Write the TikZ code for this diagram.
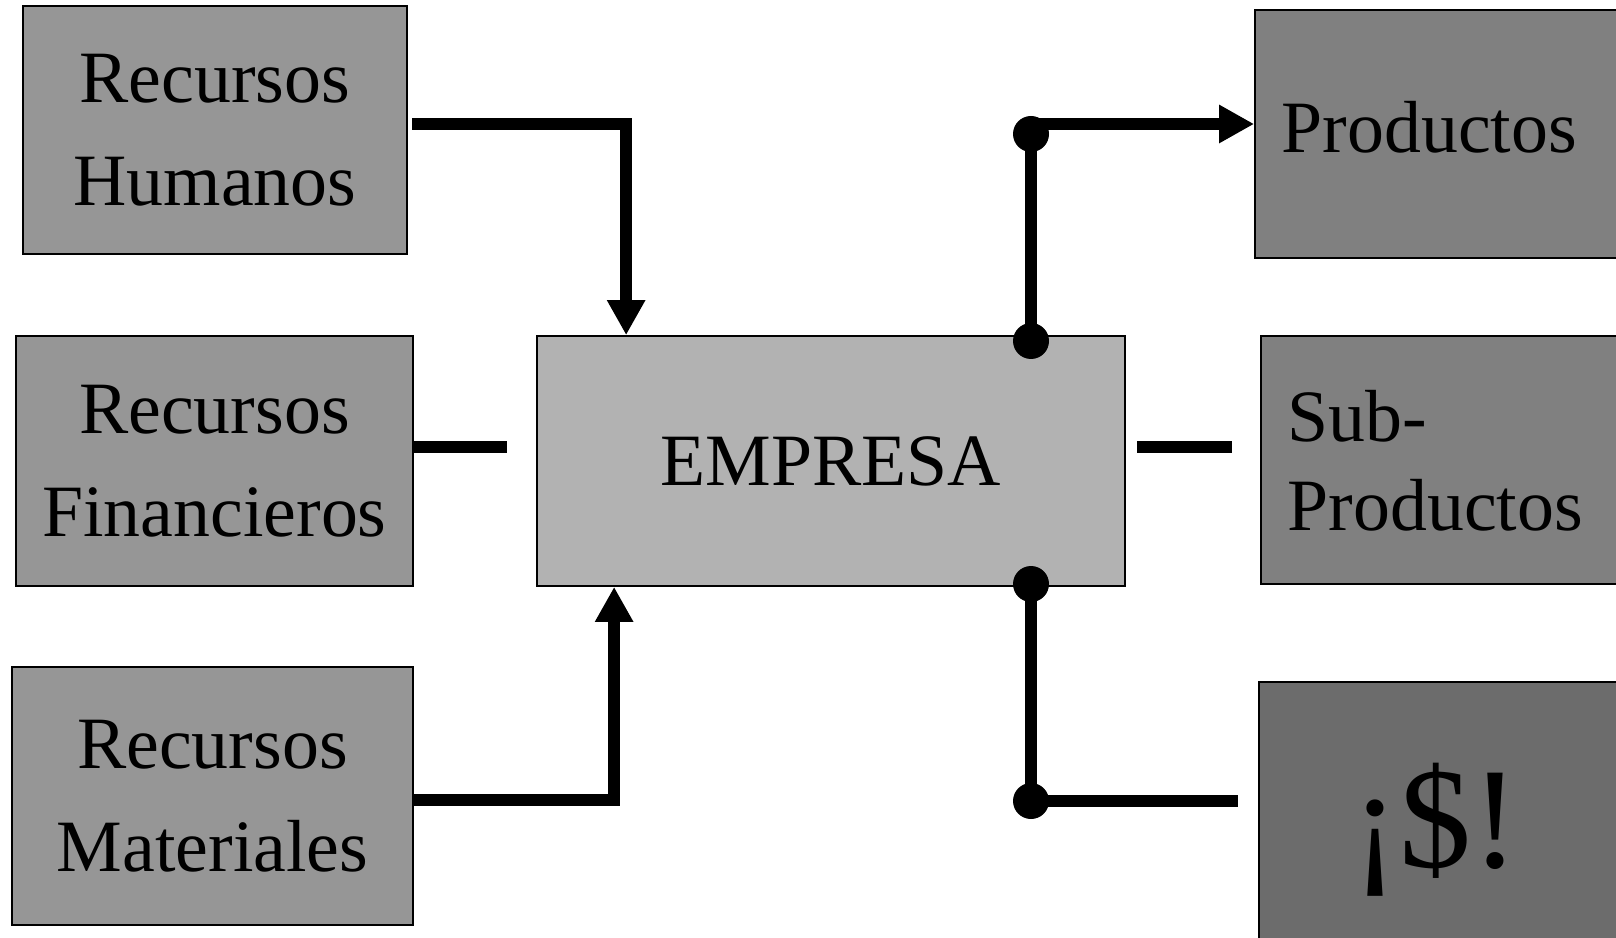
\documentclass[tikz,border=0pt]{standalone}
\usepackage{fontspec}
\setmainfont{Liberation Serif}
\usetikzlibrary{arrows.meta}

\definecolor{resgray}{RGB}{150,150,150}
\definecolor{empgray}{RGB}{178,178,178}
\definecolor{prodgray}{RGB}{128,128,128}
\definecolor{cashgray}{RGB}{108,108,108}

\begin{document}
\begin{tikzpicture}[x=0.1mm,y=-0.1mm,
  box/.style={draw,line width=0.5pt,inner sep=0pt,align=center,
    font=\fontsize{21}{29.3}\selectfont},
  link/.style={line width=3.4pt},
  flow/.style={link,-{Triangle[length=3.5mm,width=3.6mm]}},
  dot/.style={circle,fill,inner sep=0pt,minimum size=3.6mm}]
  \useasboundingbox (0,0) rectangle (1616,938);
  \clip (0,0) rectangle (1616,938);
  \node[box,fill=resgray,minimum width=38.4mm,minimum height=24.8mm] (R-1) at (215,130) {Recursos\\Humanos};
  \node[box,fill=resgray,minimum width=39.7mm,minimum height=25mm] (R-2) at (214.5,461) {Recursos\\Financieros};
  \node[box,fill=resgray,minimum width=40.1mm,minimum height=25.8mm] (R-3) at (212.5,796) {Recursos\\Materiales};
  \node[box,fill=empgray,minimum width=58.8mm,minimum height=25mm] (E) at (831,461) {EMPRESA};
  \node[box,fill=prodgray,minimum width=44.5mm,minimum height=24.8mm] (P-1) at (1477.5,134) {};
  \node[box,fill=prodgray,minimum width=43.9mm,minimum height=24.8mm] (P-2) at (1480.5,460) {};
  \node[box,fill=cashgray,minimum width=44.1mm,minimum height=31.8mm] (P-3) at (1479.5,841) {};
  \node[font=\fontsize{21}{28.4}\selectfont,inner sep=0pt,anchor=base west] (T-1) at (1281,153) {Productos};
  \node[font=\fontsize{21}{25.3}\selectfont,inner sep=0pt,align=left,anchor=west] (T-2) at (1287,461) {Sub-\\Productos};
  \node[font=\fontsize{41}{45}\selectfont,inner sep=0pt] (T-3) at (1435,830) {¡\$!};
  \coordinate (a-1) at (412,124);
  \coordinate (a-3) at (412,800);
  \coordinate (l-1) at (413,447);
  \coordinate (l-2) at (507,447);
  \coordinate (r-1) at (1137,447);
  \coordinate (r-2) at (1232,447);
  \coordinate (c-4) at (1238,801);
  \node[dot] (D-1) at (1031,134) {};
  \node[dot] (D-2) at (1031,341) {};
  \node[dot] (D-3) at (1031,584) {};
  \node[dot] (D-4) at (1031,801) {};
  \draw[flow] (a-1) -| ([xshift=9mm]E.north west);
  \draw[flow] (a-3) -| ([xshift=7.8mm]E.south west);
  \draw[link] (l-1) -- (l-2);
  \draw[link] (r-1) -- (r-2);
  \draw[link] (D-1.center) -- (D-2.center);
  \draw[flow] ([yshift=1mm]D-1.center) -- ([yshift=1mm]P-1.west);
  \draw[link] (D-3.center) -- (D-4.center);
  \draw[link] (D-4.center) -- (c-4);
\end{tikzpicture}
\end{document}
